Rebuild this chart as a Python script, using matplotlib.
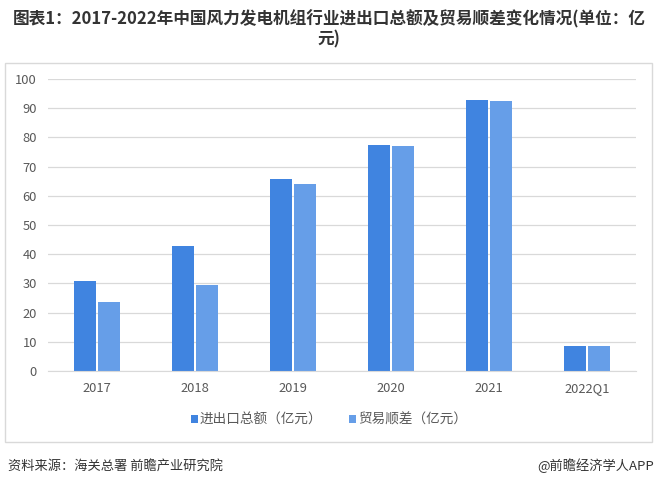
import matplotlib
matplotlib.use("Agg")
import matplotlib.pyplot as plt
import matplotlib.patches as patches
import numpy as np

plt.rcParams['font.family'] = ['Noto Sans CJK SC', 'DejaVu Sans']

# data
categories = ["2017", "2018", "2019", "2020", "2021", "2022Q1"]
total_trade = [30.9, 42.8, 65.8, 77.5, 92.9, 8.7]
trade_surplus = [23.7, 29.6, 64.1, 77.2, 92.6, 8.7]
series_names = ["进出口总额（亿元）", "贸易顺差（亿元）"]

fig = plt.figure(figsize=(6.58, 4.86), dpi=100)

# outer frame
frame = patches.Rectangle((5 / 658, 1 - 442 / 486), 647 / 658, 379 / 486,
                          transform=fig.transFigure, fill=False,
                          edgecolor="#d9d9d9", linewidth=1)
fig.patches.append(frame)

ax = fig.add_axes([48 / 658, 1 - 371 / 486, 588 / 658, 292 / 486])

x = np.arange(len(categories))
w = 0.224
gap = 0.03
ax.bar(x - (w + gap) / 2, total_trade, w, color="#4084e0", label=series_names[0])
ax.bar(x + (w + gap) / 2, trade_surplus, w, color="#669ee8", label=series_names[1])

ax.set_xlim(-0.5, len(categories) - 0.5)
ax.set_ylim(0, 100)
ax.set_yticks(range(0, 101, 10))
ax.set_xticks(x)
ax.set_xticklabels(categories)
ax.grid(axis="y", color="#d9d9d9", linewidth=0.9)
ax.set_axisbelow(True)
for s in ["top", "right", "left"]:
    ax.spines[s].set_visible(False)
ax.spines["bottom"].set_color("#d9d9d9")
ax.tick_params(axis="both", length=0, labelsize=9.3, colors="#595959")
ax.tick_params(axis="x", pad=8)
ax.tick_params(axis="y", pad=8)

fig.legend(loc="center", bbox_to_anchor=(0.5, 1 - 420 / 486), ncol=2,
           frameon=False, fontsize=9.8, handlelength=0.5, handleheight=0.5,
           handletextpad=0.15, columnspacing=2.0, labelcolor="#595959")

fig.text(0.5, 1 - 19 / 486,
         "图表1：2017-2022年中国风力发电机组行业进出口总额及贸易顺差变化情况(单位：亿",
         ha="center", va="center", fontsize=12, fontweight="bold", color="#333333")
fig.text(0.5, 1 - 39 / 486, "元)", ha="center", va="center",
         fontsize=12, fontweight="bold", color="#333333")

fig.text(8 / 658, 1 - 466 / 486, "资料来源：海关总署 前瞻产业研究院",
         ha="left", va="center", fontsize=9.5, color="#333333")
fig.text(654 / 658, 1 - 466 / 486, "@前瞻经济学人APP",
         ha="right", va="center", fontsize=9.5, color="#333333")

fig.savefig("out.png", dpi=100)
